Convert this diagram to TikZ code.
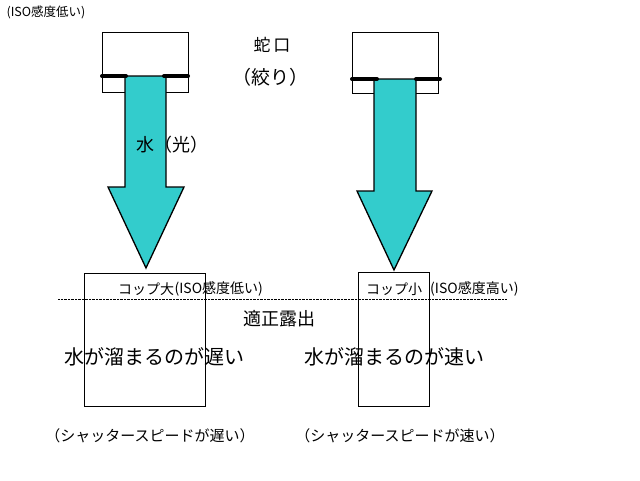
\documentclass[tikz,border=0pt]{standalone}
\usepackage{fontspec}
\setmainfont{Noto Sans CJK JP}
\usepackage{tikz}
\usetikzlibrary{positioning}
\definecolor{water}{HTML}{33CCCC}
\tikzset{
  faucet/.style={
    draw,
    thin
  },
  flow/.style={
    draw,
    fill = water,
    line width=1.3pt,
    line join=miter
  },
  valve/.style={
    line width=4pt,
    line cap=round
  },
  cup/.style={
    draw,
    thin,
    shape = rectangle,
    inner sep = 0pt
  },
  lbl/.style={
    inner sep=0pt,
    font=\fontsize{18}{20}\selectfont
  },
  small/.style={
    inner sep=0pt,
    font=\fontsize{12.5}{14}\selectfont
  }
}

\begin{document}
\begin{tikzpicture}[x=1pt,y=-1pt]
  \useasboundingbox (0,0) rectangle (640,480);

  % faucets
  \draw[faucet] (102,32) rectangle (188,92);
  \draw[faucet] (352,32) rectangle (438,93);

  % water (light)
  \draw[flow] (125,76) -- (125,187) -- (108,187) -- (146,268)
        -- (184,187) -- (166,187) -- (166,76) -- cycle;
  \draw[flow] (374,79) -- (374,191) -- (357,191) -- (394,270)
        -- (432,191) -- (416,191) -- (416,79) -- cycle;

  \coordinate (l1) at (102,76);
  \coordinate (l2) at (126,76);
  \coordinate (l3) at (164,76);
  \coordinate (l4) at (188,76);
  \draw[valve] (l1) -- (l2);
  \draw[valve] (l3) -- (l4);
  \coordinate (r1) at (352,79);
  \coordinate (r2) at (377,79);
  \coordinate (r3) at (416,79);
  \coordinate (r4) at (440,79);
  \draw[valve] (r1) -- (r2);
  \draw[valve] (r3) -- (r4);

  % cups
  \node[cup, minimum width=121pt, minimum height=133pt] (bigcup) at (144.5,339.5) {};
  \node[cup, minimum width=71pt, minimum height=134pt] (smallcup) at (393.5,339) {};

  \coordinate (d1) at (58,299);
  \coordinate (d2) at (507,299);
  \draw[densely dotted, thin] (d1) -- (d2);

  % labels
  \node[small] (iso) at (46,12) {(ISO感度低い)};
  \node[lbl, font=\fontsize{17}{19}\selectfont] (jaguchi) at (272,45) {蛇\kern3pt 口};
  \node[lbl, font=\fontsize{19}{21}\selectfont] (shibori) at (270,77) {（絞り）};
  \node[lbl] (mizu) at (172,145) {水（光）};

  \node[lbl, font=\fontsize{14}{16}\selectfont, anchor=west] (cupL) at (118,289) {コップ大};
  \node[small, font=\fontsize{14}{16}\selectfont, anchor=west] (isoL) at (cupL.east) {(ISO感度低い)};
  \node[lbl, font=\fontsize{14}{16}\selectfont, anchor=west] (cupS) at (366,289) {コップ小};
  \node[small, font=\fontsize{14}{16}\selectfont, anchor=west] (isoS) at (430,289) {(ISO感度高い)};

  \node[lbl] (tekisei) at (279,319) {適正露出};
  \node[lbl, font=\fontsize{20}{22}\selectfont] (slow) at (154,357) {水が溜まるのが遅い};
  \node[lbl, font=\fontsize{20}{22}\selectfont] (fast) at (394,357) {水が溜まるのが速い};
  \node[lbl, font=\fontsize{15}{17}\selectfont] (ssL) at (150,436) {（シャッタースピードが遅い）};
  \node[lbl, font=\fontsize{15}{17}\selectfont] (ssS) at (400,436) {（シャッタースピードが速い）};
\end{tikzpicture}
\end{document}
